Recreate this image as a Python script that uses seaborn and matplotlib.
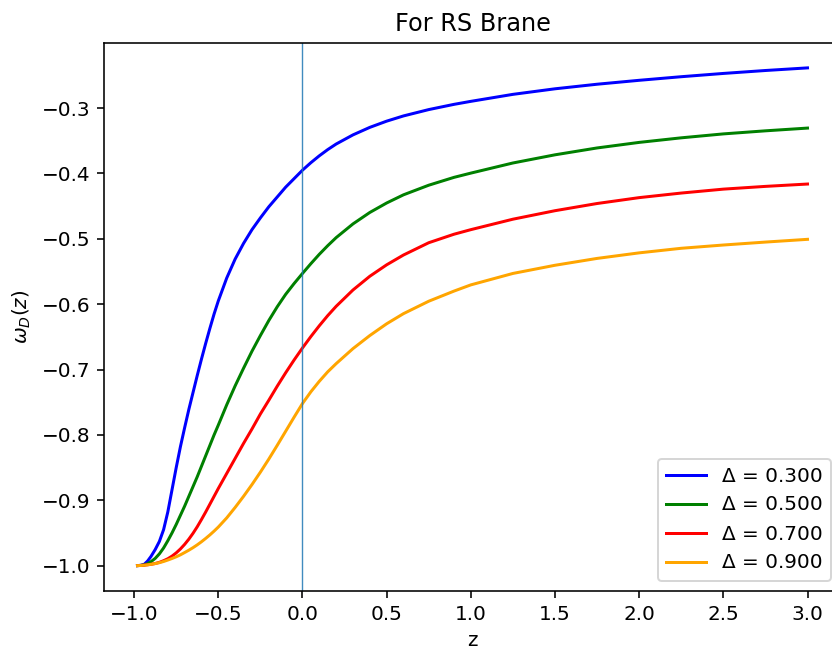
import matplotlib
matplotlib.use("Agg")
import matplotlib.pyplot as plt
import seaborn as sns
import pandas as pd

z = [-0.98, -0.96, -0.94, -0.92, -0.9, -0.875, -0.85, -0.825, -0.8, -0.775,
     -0.75, -0.725, -0.7, -0.675, -0.65, -0.625, -0.6, -0.575, -0.55, -0.525,
     -0.5, -0.45, -0.4, -0.35, -0.3, -0.25, -0.2, -0.15, -0.1, -0.05,
     0.0, 0.05, 0.1, 0.15, 0.2, 0.3, 0.4, 0.5, 0.6, 0.75,
     0.9, 1.0, 1.25, 1.5, 1.75, 2.0, 2.25, 2.5, 2.75, 3.0]

w_d03 = [-1.000, -0.9995, -0.998, -0.993, -0.986, -0.9755, -0.963, -0.945, -0.918, -0.884,
         -0.850, -0.818, -0.789, -0.761, -0.735, -0.709, -0.684, -0.660, -0.637, -0.615,
         -0.595, -0.560, -0.531, -0.507, -0.486, -0.468, -0.451, -0.436, -0.421, -0.408,
         -0.395, -0.3835, -0.373, -0.3635, -0.355, -0.341, -0.3295, -0.320, -0.312, -0.3023,
         -0.2943, -0.2897, -0.279, -0.2705, -0.2635, -0.2575, -0.252, -0.247, -0.2425, -0.2385]

w_d05 = [-1.000, -0.9997, -0.999, -0.997, -0.994, -0.989, -0.982, -0.973, -0.962, -0.950,
         -0.937, -0.923, -0.909, -0.894, -0.879, -0.864, -0.848, -0.832, -0.816, -0.800,
         -0.785, -0.754, -0.725, -0.698, -0.672, -0.648, -0.625, -0.604, -0.585, -0.5685,
         -0.553, -0.538, -0.5237, -0.5105, -0.4982, -0.4772, -0.4597, -0.4452, -0.4327, -0.418,
         -0.406, -0.3995, -0.384, -0.3715, -0.361, -0.3525, -0.3455, -0.3395, -0.3348, -0.3306]

w_d07 = [-1.000, -0.9997, -0.9993, -0.9987, -0.998, -0.9968, -0.995, -0.9925, -0.9895, -0.9855,
         -0.9805, -0.9745, -0.9675, -0.9595, -0.9505, -0.9405, -0.9295, -0.918, -0.906, -0.894,
         -0.882, -0.859, -0.836, -0.813, -0.791, -0.768, -0.747, -0.7255, -0.705, -0.6855,
         -0.667, -0.6495, -0.633, -0.6175, -0.6033, -0.5783, -0.5573, -0.5398, -0.5248, -0.506,
         -0.493, -0.486, -0.470, -0.457, -0.446, -0.437, -0.430, -0.424, -0.4198, -0.4162]

w_d09 = [-1.000, -0.9998, -0.9994, -0.9988, -0.998, -0.9969, -0.9955, -0.9937, -0.9915, -0.9891,
         -0.9865, -0.9835, -0.980, -0.9764, -0.9725, -0.9682, -0.9635, -0.9584, -0.953, -0.9472,
         -0.941, -0.927, -0.911, -0.894, -0.876, -0.857, -0.837, -0.816, -0.7945, -0.773,
         -0.752, -0.734, -0.718, -0.7035, -0.691, -0.668, -0.648, -0.630, -0.6145, -0.5955,
         -0.580, -0.5705, -0.553, -0.5405, -0.530, -0.5215, -0.5145, -0.5095, -0.505, -0.5008]

deltas = [0.3, 0.5, 0.7, 0.9]
series = [w_d03, w_d05, w_d07, w_d09]
colors = ["blue", "green", "red", "orange"]

dpi = 144
fig = plt.figure(figsize=(832 / dpi, 654 / dpi), dpi=dpi)
ax = fig.add_axes([104 / 832, 1 - 590.5 / 654, (841 - 104) / 832, (590.5 - 43) / 654])

for d, w, c in zip(deltas, series, colors):
    df = pd.DataFrame({"z": z, "w": w})
    sns.lineplot(data=df, x="z", y="w", color=c, linewidth=1.5,
                 label=f"Δ = {d:.3f}", ax=ax)

ax.axvline(0, color="#1f77b4", linewidth=0.7, alpha=0.85)
ax.set_title("For RS Brane")
ax.set_xlabel("z")
ax.set_ylabel(r"$\omega_D(z)$")
ax.legend(loc="lower right")

fig.savefig("out.png", dpi=dpi)
